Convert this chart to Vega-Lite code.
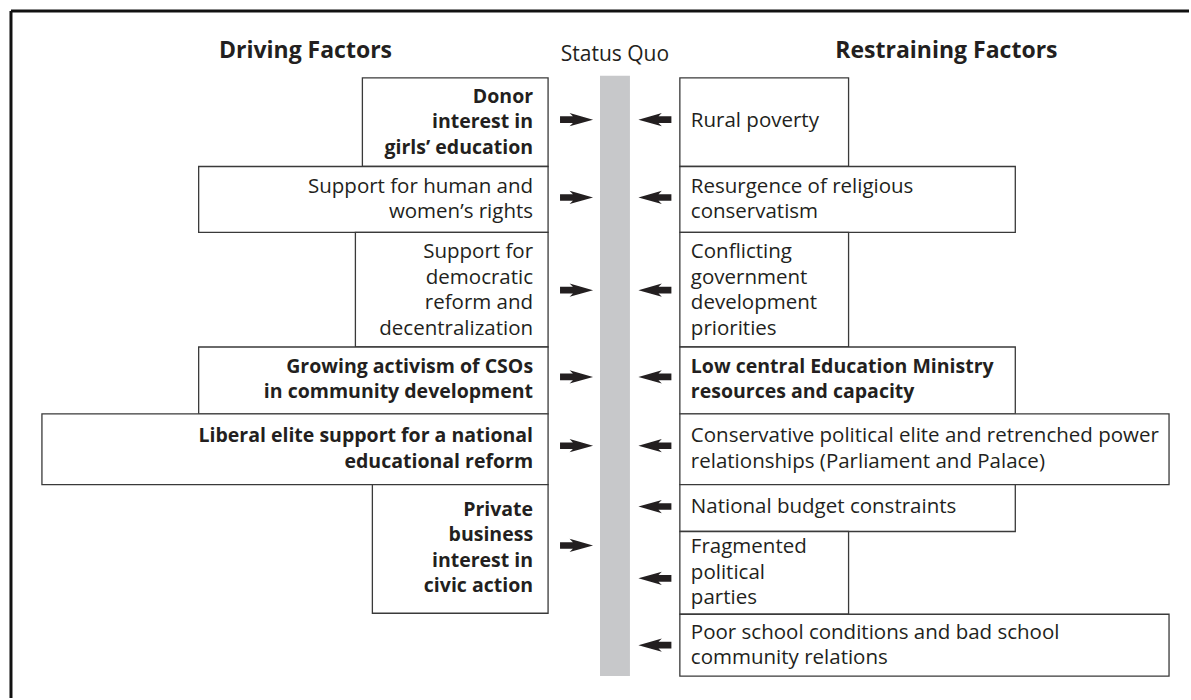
{
  "$schema": "https://vega.github.io/schema/vega-lite/v6.json",
  "width": 1191,
  "height": 700,
  "autosize": {"type": "fit", "contains": "padding"},
  "padding": 0,
  "background": "white",
  "config": {"view": {"stroke": null}, "text": {"font": "Open Sans", "color": "#231f20"}},
  "datasets": {
    "frame": [
      {"x1": 11, "x2": 1191, "y1": 11, "y2": 11},
      {"x1": 11, "x2": 11, "y1": 11, "y2": 700}
    ],
    "bar": [{"name": "Status Quo", "x1": 601, "x2": 631, "y1": 76, "y2": 678}],
    "factors": [
      {"side": "driving", "weight": "bold", "label": "Donor\ninterest in\ngirls’ education", "x1": 363, "x2": 549, "y1": 78, "y2": 167, "ytext": 97},
      {"side": "driving", "weight": "normal", "label": "Support for human and\nwomen’s rights", "x1": 199, "x2": 549, "y1": 167, "y2": 233, "ytext": 187.5},
      {"side": "driving", "weight": "normal", "label": "Support for\ndemocratic\nreform and\ndecentralization", "x1": 356, "x2": 549, "y1": 233, "y2": 348, "ytext": 253},
      {"side": "driving", "weight": "bold", "label": "Growing activism of CSOs\nin community development", "x1": 199, "x2": 549, "y1": 348, "y2": 415, "ytext": 368},
      {"side": "driving", "weight": "bold", "label": "Liberal elite support for a national\neducational reform", "x1": 42, "x2": 549, "y1": 415, "y2": 486, "ytext": 437.5},
      {"side": "driving", "weight": "bold", "label": "Private\nbusiness\ninterest in\ncivic action", "x1": 373, "x2": 549, "y1": 486, "y2": 615, "ytext": 511},
      {"side": "restraining", "weight": "normal", "label": "Rural poverty", "x1": 681, "x2": 850, "y1": 78, "y2": 167, "ytext": 121.5},
      {"side": "restraining", "weight": "normal", "label": "Resurgence of religious\nconservatism", "x1": 681, "x2": 1017, "y1": 167, "y2": 233, "ytext": 187.5},
      {"side": "restraining", "weight": "normal", "label": "Conflicting\ngovernment\ndevelopment\npriorities", "x1": 681, "x2": 850, "y1": 233, "y2": 348, "ytext": 253},
      {"side": "restraining", "weight": "bold", "label": "Low central Education Ministry\nresources and capacity", "x1": 681, "x2": 1017, "y1": 348, "y2": 415, "ytext": 368},
      {"side": "restraining", "weight": "normal", "label": "Conservative political elite and retrenched power\nrelationships (Parliament and Palace)", "x1": 681, "x2": 1171, "y1": 415, "y2": 486, "ytext": 437.5},
      {"side": "restraining", "weight": "normal", "label": "National budget constraints", "x1": 681, "x2": 1017, "y1": 486, "y2": 533, "ytext": 508.5},
      {"side": "restraining", "weight": "normal", "label": "Fragmented\npolitical\nparties", "x1": 681, "x2": 850, "y1": 533, "y2": 616, "ytext": 549},
      {"side": "restraining", "weight": "normal", "label": "Poor school conditions and bad school\ncommunity relations", "x1": 681, "x2": 1171, "y1": 616, "y2": 678, "ytext": 634.5}
    ],
    "arrows": [
      {"dir": "right", "x": 577.5, "y": 120},
      {"dir": "right", "x": 577.5, "y": 198},
      {"dir": "right", "x": 577.5, "y": 291},
      {"dir": "right", "x": 577.5, "y": 378},
      {"dir": "right", "x": 577.5, "y": 447},
      {"dir": "right", "x": 577.5, "y": 547},
      {"dir": "left", "x": 656, "y": 120},
      {"dir": "left", "x": 656, "y": 198},
      {"dir": "left", "x": 656, "y": 291},
      {"dir": "left", "x": 656, "y": 378},
      {"dir": "left", "x": 656, "y": 447},
      {"dir": "left", "x": 656, "y": 508},
      {"dir": "left", "x": 656, "y": 580},
      {"dir": "left", "x": 656, "y": 647}
    ],
    "titles": [
      {"title": "Driving Factors", "kind": "heading", "x": 306, "y": 58},
      {"title": "Restraining Factors", "kind": "heading", "x": 948, "y": 58},
      {"title": "Status Quo", "kind": "center", "x": 616, "y": 61}
    ]
  },
  "layer": [
    {
      "data": {"name": "frame"},
      "mark": {"type": "rule", "stroke": "#111111", "strokeWidth": 3},
      "encoding": {
        "x": {"field": "x1", "type": "quantitative", "scale": {"domain": [0, 1191], "nice": false, "zero": false}, "axis": null},
        "x2": {"field": "x2"},
        "y": {"field": "y1", "type": "quantitative", "scale": {"domain": [0, 700], "nice": false, "zero": false, "reverse": true}, "axis": null},
        "y2": {"field": "y2"}
      }
    },
    {
      "data": {"name": "bar"},
      "mark": {"type": "rect", "fill": "#c7c8ca"},
      "encoding": {
        "x": {"field": "x1", "type": "quantitative"},
        "x2": {"field": "x2"},
        "y": {"field": "y1", "type": "quantitative"},
        "y2": {"field": "y2"}
      }
    },
    {
      "data": {"name": "factors"},
      "mark": {"type": "rect", "fill": "white", "stroke": "#3a3a3a", "strokeWidth": 1.3},
      "encoding": {
        "x": {"field": "x1", "type": "quantitative"},
        "x2": {"field": "x2"},
        "y": {"field": "y1", "type": "quantitative"},
        "y2": {"field": "y2"}
      }
    },
    {
      "data": {"name": "factors"},
      "transform": [{"filter": "datum.side === 'driving' && datum.weight === 'bold'"}],
      "mark": {"type": "text", "align": "right", "baseline": "middle", "fontSize": 19.5, "fontWeight": "bold", "lineHeight": 25.5, "lineBreak": "\n", "xOffset": -15},
      "encoding": {
        "x": {"field": "x2", "type": "quantitative"},
        "y": {"field": "ytext", "type": "quantitative"},
        "text": {"field": "label"}
      }
    },
    {
      "data": {"name": "factors"},
      "transform": [{"filter": "datum.side === 'driving' && datum.weight === 'normal'"}],
      "mark": {"type": "text", "align": "right", "baseline": "middle", "fontSize": 20.5, "lineHeight": 25.5, "lineBreak": "\n", "xOffset": -15},
      "encoding": {
        "x": {"field": "x2", "type": "quantitative"},
        "y": {"field": "ytext", "type": "quantitative"},
        "text": {"field": "label"}
      }
    },
    {
      "data": {"name": "factors"},
      "transform": [{"filter": "datum.side === 'restraining' && datum.weight === 'bold'"}],
      "mark": {"type": "text", "align": "left", "baseline": "middle", "fontSize": 19.5, "fontWeight": "bold", "lineHeight": 25.5, "lineBreak": "\n", "xOffset": 11},
      "encoding": {
        "x": {"field": "x1", "type": "quantitative"},
        "y": {"field": "ytext", "type": "quantitative"},
        "text": {"field": "label"}
      }
    },
    {
      "data": {"name": "factors"},
      "transform": [{"filter": "datum.side === 'restraining' && datum.weight === 'normal'"}],
      "mark": {"type": "text", "align": "left", "baseline": "middle", "fontSize": 20.5, "lineHeight": 25.5, "lineBreak": "\n", "xOffset": 11},
      "encoding": {
        "x": {"field": "x1", "type": "quantitative"},
        "y": {"field": "ytext", "type": "quantitative"},
        "text": {"field": "label"}
      }
    },
    {
      "data": {"name": "arrows"},
      "mark": {"type": "point", "filled": true, "color": "#231f20", "opacity": 1, "size": 1089, "strokeWidth": 0},
      "encoding": {
        "x": {"field": "x", "type": "quantitative"},
        "y": {"field": "y", "type": "quantitative"},
        "shape": {
          "field": "dir",
          "type": "nominal",
          "legend": null,
          "scale": {
            "domain": ["right", "left"],
            "range": [
              "M -1 -0.2 L -0.22 -0.2 L -0.42 -0.4 L 1 0 L -0.42 0.4 L -0.22 0.2 L -1 0.2 Z",
              "M 1 -0.2 L 0.22 -0.2 L 0.42 -0.4 L -1 0 L 0.42 0.4 L 0.22 0.2 L 1 0.2 Z"
            ]
          }
        }
      }
    },
    {
      "data": {"name": "titles"},
      "transform": [{"filter": "datum.kind === 'heading'"}],
      "mark": {"type": "text", "align": "center", "baseline": "alphabetic", "fontSize": 23, "fontWeight": "bold"},
      "encoding": {
        "x": {"field": "x", "type": "quantitative"},
        "y": {"field": "y", "type": "quantitative"},
        "text": {"field": "title"}
      }
    },
    {
      "data": {"name": "titles"},
      "transform": [{"filter": "datum.kind === 'center'"}],
      "mark": {"type": "text", "align": "center", "baseline": "alphabetic", "fontSize": 21},
      "encoding": {
        "x": {"field": "x", "type": "quantitative"},
        "y": {"field": "y", "type": "quantitative"},
        "text": {"field": "title"}
      }
    }
  ]
}
